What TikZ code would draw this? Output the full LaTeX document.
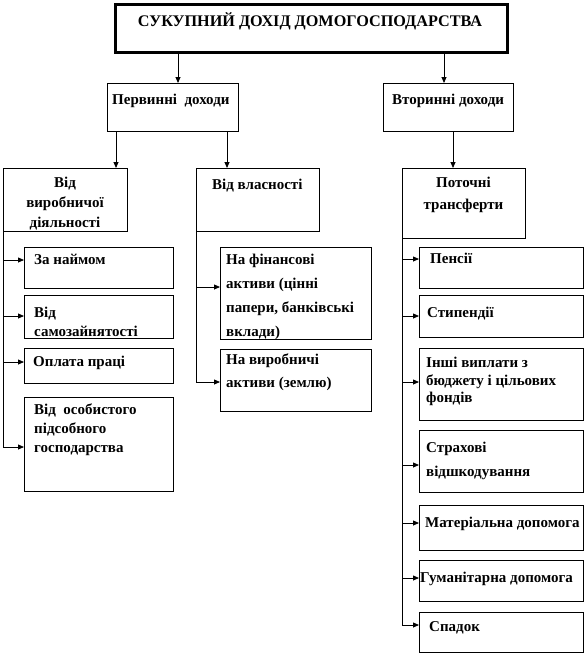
\documentclass[tikz,border=0pt]{standalone}
\usepackage{fontspec}
\setmainfont{Liberation Serif}
\usetikzlibrary{arrows.meta}
\newcommand\fsz{15}
\newcommand\mylines[3][170pt]{\parbox[t]{#1}{\fontsize{\fsz}{#2}\selectfont\bfseries\raggedright #3}}
\newcommand\mycent[3][120pt]{\parbox[t]{#1}{\fontsize{\fsz}{#2}\selectfont\bfseries\centering #3}}
\begin{document}
\begin{tikzpicture}[x=1pt,y=-1pt,
  box/.style={draw, line width=0.8pt, inner sep=0pt, anchor=north west},
  txt/.style={inner sep=0pt, anchor=base west},
  ctxt/.style={inner sep=0pt, anchor=base},
  arr/.style={line width=0.8pt, -{Triangle[length=6pt,width=5pt]}}]
\useasboundingbox (0,0) rectangle (585,654);
% boxes
\node[box, line width=2.5pt, minimum width=392pt, minimum height=48pt] (top) at (114,3) {};
\node[box, minimum width=131pt, minimum height=48pt] (perv) at (107,83) {};
\node[box, minimum width=130pt, minimum height=48pt] (vtor) at (383,83) {};
\node[box, minimum width=124pt, minimum height=63pt] (vv) at (3,168) {};
\node[box, minimum width=123pt, minimum height=63pt] (vl) at (196,168) {};
\node[box, minimum width=123pt, minimum height=70pt] (pt) at (402,168) {};
% left children
\node[box, minimum width=149pt, minimum height=41pt] (zn) at (24,247) {};
\node[box, minimum width=149pt, minimum height=43pt] (sz) at (24,295) {};
\node[box, minimum width=149pt, minimum height=35pt] (op) at (24,348) {};
\node[box, minimum width=149pt, minimum height=94pt] (os) at (24,397) {};
% middle children
\node[box, minimum width=151pt, minimum height=92pt] (fa) at (220,247) {};
\node[box, minimum width=151pt, minimum height=62pt] (va) at (220,349) {};
% right children
\node[box, minimum width=164pt, minimum height=41pt] (pn) at (419,247) {};
\node[box, minimum width=164pt, minimum height=42pt] (st) at (419,295) {};
\node[box, minimum width=164pt, minimum height=72pt] (iv) at (419,348) {};
\node[box, minimum width=164pt, minimum height=62pt] (sv) at (419,430) {};
\node[box, minimum width=164pt, minimum height=45pt] (md) at (419,505) {};
\node[box, minimum width=164pt, minimum height=41pt] (gd) at (419,560) {};
\node[box, minimum width=164pt, minimum height=40pt] (sp) at (419,612) {};
% texts
\node[ctxt] (ttop) at (310,26) {\fontsize{16.2}{18}\selectfont\bfseries СУКУПНИЙ ДОХІД ДОМОГОСПОДАРСТВА};
\node[txt] (tperv) at (112,104.5) {\mylines{16}{Первинні\ \ доходи}};
\node[txt] (tvtor) at (392,104.5) {\mylines{16}{Вторинні доходи}};
\node[ctxt] (tvv) at (65,187.5) {\mycent{20}{Від\\виробничої\\діяльності}};
\node[txt] (tvl) at (212,189.5) {\mylines{16}{Від власності}};
\node[ctxt] (tpt) at (463.5,187.5) {\mycent{22}{Поточні\\трансферти}};
\node[txt] (tzn) at (34,264.5) {\mylines{16}{За наймом}};
\node[txt] (tsz) at (34,317.5) {\mylines{19}{Від\\самозайнятості}};
\node[txt] (top2) at (33,366.5) {\mylines{16}{Оплата праці}};
\node[txt] (tos) at (34,414.5) {\mylines{19}{Від\ \ особистого\\підсобного\\господарства}};
\node[txt] (tfa) at (226,264.5) {\mylines{24}{На фінансові\\активи (цінні\\папери, банківські\\вклади)}};
\node[txt] (tva) at (226,364.5) {\mylines{23}{На виробничі\\активи (землю)}};
\node[txt] (tpn) at (430,263.5) {\mylines{16}{Пенсії}};
\node[txt] (tst) at (427,317.5) {\mylines{16}{Стипендії}};
\node[txt] (tiv) at (426,367.5) {\mylines{17.5}{Інші виплати з\\бюджету і цільових\\фондів}};
\node[txt] (tsv) at (426,452.5) {\mylines{24}{Страхові\\відшкодування}};
\node[txt] (tmd) at (425,527.5) {\mylines{16}{Матеріальна допомога}};
\node[txt] (tgd) at (420,582.5) {\mylines{16}{Гуманітарна допомога}};
\node[txt] (tsp) at (429,631.5) {\mylines{16}{Спадок}};
% connectors
\draw[arr] (top.south -| 178,0) -- (perv.north -| 178,0);
\draw[arr] (top.south -| 444,0) -- (vtor.north -| 444,0);
\draw[arr] (perv.south -| 116,0) -- (vv.north -| 116,0);
\draw[arr] (perv.south -| 227,0) -- (vl.north -| 227,0);
\draw[arr] (vtor.south -| 453,0) -- (pt.north -| 453,0);
% left spine
\draw[arr] (vv.south west) |- (zn.west |- 0,260);
\draw[arr] (vv.south west) |- (sz.west |- 0,316);
\draw[arr] (vv.south west) |- (op.west |- 0,362);
\draw[arr] (vv.south west) |- (os.west |- 0,447);
% middle spine
\draw[arr] (vl.south west) |- (fa.west |- 0,287);
\draw[arr] (vl.south west) |- (va.west |- 0,382);
% right spine
\draw[arr] (pt.south west) |- (pn.west |- 0,259);
\draw[arr] (pt.south west) |- (st.west |- 0,316);
\draw[arr] (pt.south west) |- (iv.west |- 0,382);
\draw[arr] (pt.south west) |- (sv.west |- 0,465);
\draw[arr] (pt.south west) |- (md.west |- 0,523);
\draw[arr] (pt.south west) |- (gd.west |- 0,578);
\draw[arr] (pt.south west) |- (sp.west |- 0,625);
\end{tikzpicture}
\end{document}
